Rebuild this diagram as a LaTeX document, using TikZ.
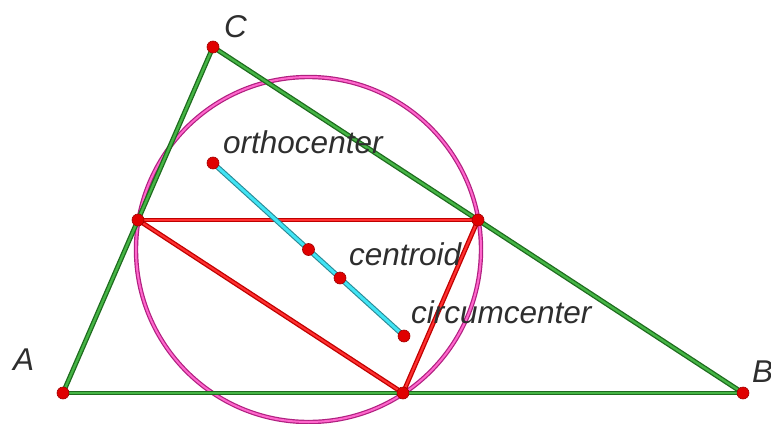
\documentclass[tikz,border=0pt]{standalone}
\usepackage{fontspec}
\setmainfont{Liberation Sans}
\definecolor{gborder}{HTML}{1E6B1E}
\definecolor{ginner}{HTML}{45B545}
\definecolor{rborder}{HTML}{C00000}
\definecolor{rinner}{HTML}{FF3030}
\definecolor{cborder}{HTML}{2A8A96}
\definecolor{cinner}{HTML}{40E4F4}
\definecolor{mborder}{HTML}{B02080}
\definecolor{minner}{HTML}{FF66CC}
\definecolor{ptfill}{HTML}{E00000}
\definecolor{ptdraw}{HTML}{A00000}
\definecolor{lbl}{HTML}{2E2E2E}
\begin{document}
\begin{tikzpicture}[x=1pt,y=-1pt,
  greenline/.style={draw=gborder,double=ginner,line width=1.3pt,double distance=2.3pt},
  redline/.style={draw=rborder,double=rinner,line width=1.3pt,double distance=2.1pt},
  cyanline/.style={draw=cborder,double=cinner,line width=1.1pt,double distance=3.0pt},
  magline/.style={draw=mborder,double=minner,line width=1.2pt,double distance=2.0pt},
  pt/.style={circle,fill=ptfill,draw=ptdraw,line width=0.6pt,inner sep=0pt,minimum size=12pt},
  lab/.style={anchor=base west,inner sep=0pt,text=lbl,font=\fontsize{31.5}{36}\selectfont\itshape}]
\useasboundingbox (0,0) rectangle (771,423);
\coordinate (A) at (63,393);
\coordinate (B) at (743,393);
\coordinate (C) at (213,47);
\coordinate (Mac) at (138,220);
\coordinate (Mbc) at (478,220);
\coordinate (Mab) at (403,393);
\coordinate (H) at (213,163);
\coordinate (G) at (340,278);
\coordinate (O) at (404,336);
\coordinate (N) at (308.5,249.5);
% circle
\draw[magline] (N) circle (172.5);
% triangle
\draw[greenline] (A) -- (B);
\draw[greenline] (B) -- (C);
\draw[greenline] (C) -- (A);
% medial triangle
\draw[redline] (Mac) -- (Mbc);
\draw[redline] (Mbc) -- (Mab);
\draw[redline] (Mab) -- (Mac);
% Euler line
\draw[cyanline] (H) -- (O);
% points
\foreach \p in {A,B,C,Mac,Mbc,Mab,H,G,O,N} \node[pt] (p\p) at (\p) {};
% labels
\node[lab] (lA) at (13,370) {A};
\node[lab] (lB) at (752,382) {B};
\node[lab] (lC) at (224,37) {C};
\node[lab] (lH) at (223,153) {orthocenter};
\node[lab] (lG) at (349,265) {centroid};
\node[lab] (lO) at (411,323) {circumcenter};
\end{tikzpicture}
\end{document}
